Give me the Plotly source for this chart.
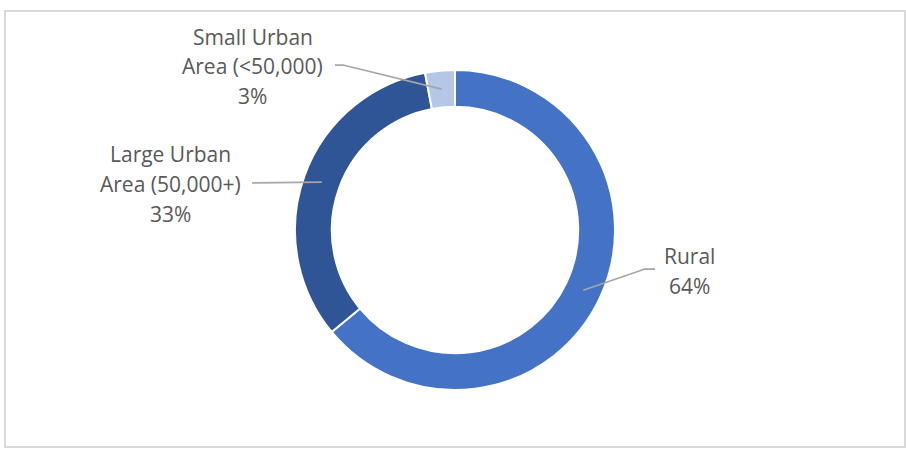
import math
import plotly.graph_objects as go

# Population share by area type
categories = ["Rural", "Large Urban Area (50,000+)", "Small Urban Area (<50,000)"]
shares = [64, 33, 3]
colors = ["#4472C4", "#2F5597", "#B4C7E7"]

# Text lines of each data label (name lines + percentage)
label_lines = [
    ["Rural", "64%"],
    ["Large Urban", "Area (50,000+)", "33%"],
    ["Small Urban", "Area (<50,000)", "3%"],
]

W, H = 906, 451
CX, CY, R = 455, 230, 160        # donut centre and outer radius, in px
HOLE = 0.77
LINE_H = 29.5                      # label line spacing, px
FONT = dict(family="Open Sans, Noto Sans, sans-serif", size=21, color="#595959")

# label block centre (px) and leader-line elbow (px) for each slice
label_pos = [(689, 271), (170, 184), (253, 66)]
elbows = [[(655, 269), (645, 269)], [(252, 183)], [(335, 65), (343, 65)]]


def px_to_paper(x, y):
    return x / W, (H - y) / H


fig = go.Figure(
    go.Pie(
        labels=categories,
        values=shares,
        hole=HOLE,
        sort=False,
        direction="clockwise",
        rotation=0,
        marker=dict(colors=colors, line=dict(color="white", width=2)),
        textinfo="none",
        hoverinfo="label+percent",
        showlegend=False,
        domain=dict(x=[(CX - R) / W, (CX + R) / W],
                    y=[(H - CY - R) / H, (H - CY + R) / H]),
    )
)

shapes = []
annotations = []
total = sum(shares)
cum = 0.0
r_mid = R * (1 + HOLE) / 2
for i, v in enumerate(shares):
    # slice mid-angle, clockwise from 12 o'clock
    mid = (cum + v / 2) / total * 2 * math.pi
    cum += v
    ax = CX + r_mid * math.sin(mid)
    ay = CY - r_mid * math.cos(mid)
    pts = elbows[i] + [(ax, ay)]
    path = ""
    for k, (px, py) in enumerate(pts):
        x, y = px_to_paper(px, py)
        path += ("M" if k == 0 else " L") + f" {x} {y}"
    shapes.append(dict(type="path", xref="paper", yref="paper", path=path,
                       line=dict(color="#A6A6A6", width=1.75)))

    lx, ly = label_pos[i]
    lines = label_lines[i]
    n = len(lines)
    for j, t in enumerate(lines):
        yy = ly + (j - (n - 1) / 2) * LINE_H
        x, y = px_to_paper(lx, yy)
        annotations.append(dict(text=t, x=x, y=y, xref="paper", yref="paper",
                                showarrow=False, xanchor="center", yanchor="middle",
                                font=FONT))

# chart-area border
bx0, by0 = px_to_paper(5, 447)
bx1, by1 = px_to_paper(905, 11)
shapes.append(dict(type="rect", xref="paper", yref="paper",
                   x0=bx0, y0=by0, x1=bx1, y1=by1,
                   line=dict(color="#D9D9D9", width=2)))

fig.update_layout(
    width=W, height=H,
    margin=dict(l=0, r=0, t=0, b=0),
    paper_bgcolor="white",
    plot_bgcolor="white",
    shapes=shapes,
    annotations=annotations,
)

fig.write_html("out.html")
